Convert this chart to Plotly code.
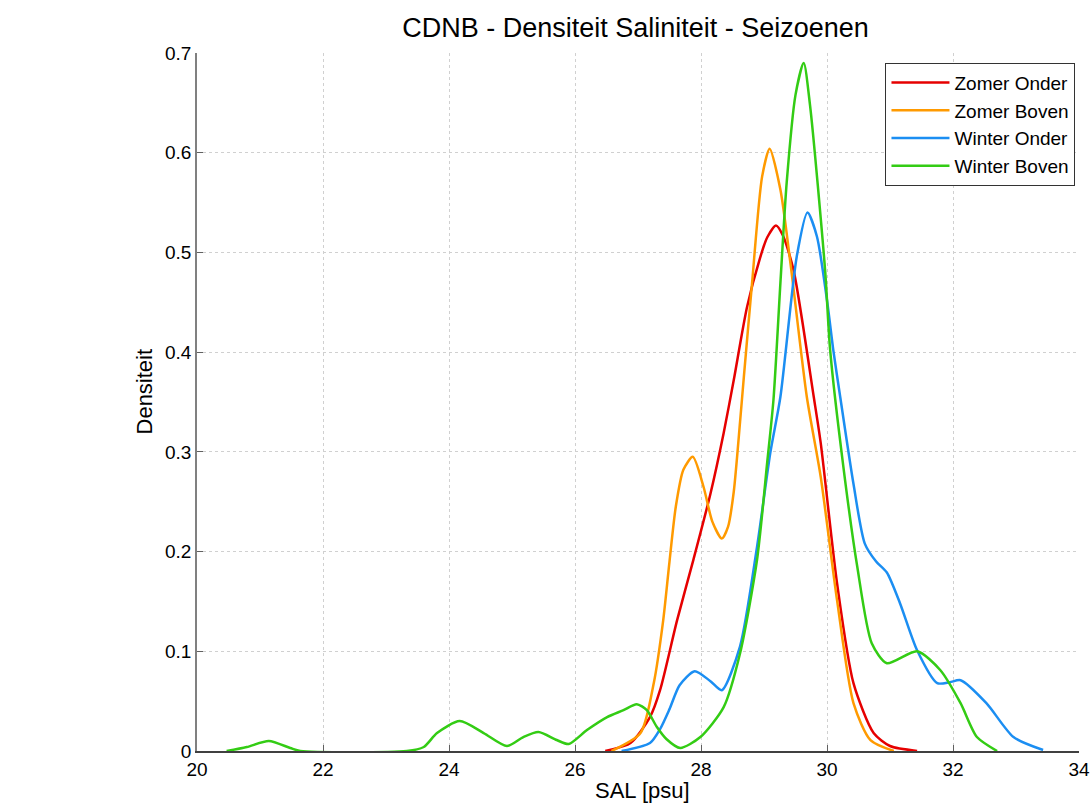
import plotly.graph_objects as go

# Zomer Onder (red)
zo_x = [26.48, 26.88, 27.19, 27.35, 27.62, 27.88, 28.15, 28.36, 28.52, 28.73, 28.94, 29.05, 29.19, 29.30, 29.47, 29.79, 29.90, 30.16, 30.42, 30.74, 31.00, 31.43]
zo_y = [0.0, 0.008, 0.034, 0.061, 0.131, 0.192, 0.258, 0.319, 0.372, 0.445, 0.495, 0.515, 0.527, 0.517, 0.482, 0.355, 0.309, 0.168, 0.068, 0.018, 0.005, 0.0]

# Zomer Boven (orange)
zb_x = [26.58, 27.04, 27.25, 27.40, 27.50, 27.60, 27.72, 27.87, 28.04, 28.18, 28.33, 28.43, 28.52, 28.62, 28.68, 28.81, 28.97, 29.09, 29.26, 29.42, 29.68, 29.90, 30.16, 30.42, 30.69, 31.06]
zb_y = [0.0, 0.018, 0.068, 0.131, 0.190, 0.245, 0.282, 0.295, 0.265, 0.230, 0.213, 0.225, 0.260, 0.330, 0.375, 0.469, 0.576, 0.604, 0.563, 0.489, 0.355, 0.275, 0.151, 0.048, 0.011, 0.0]

# Winter Onder (blue)
wo_x = [26.74, 27.19, 27.35, 27.50, 27.66, 27.90, 28.15, 28.33, 28.62, 28.89, 29.10, 29.26, 29.52, 29.69, 29.84, 30.00, 30.10, 30.21, 30.42, 30.60, 30.78, 30.95, 31.16, 31.43, 31.75, 31.95, 32.12, 32.53, 32.96, 33.43]
wo_y = [0.0, 0.008, 0.022, 0.042, 0.066, 0.080, 0.070, 0.061, 0.105, 0.205, 0.299, 0.355, 0.496, 0.540, 0.516, 0.452, 0.402, 0.355, 0.268, 0.208, 0.190, 0.179, 0.148, 0.101, 0.068, 0.069, 0.071, 0.048, 0.014, 0.001]

# Winter Boven (green)
wb_x = [20.47, 20.79, 21.14, 21.48, 21.64, 23.33, 23.60, 23.81, 24.17, 24.55, 24.92, 25.18, 25.42, 25.71, 25.90, 26.19, 26.51, 26.77, 26.98, 27.14, 27.30, 27.45, 27.67, 27.99, 28.36, 28.62, 28.89, 29.05, 29.15, 29.26, 29.36, 29.50, 29.63, 29.73, 29.97, 30.05, 30.26, 30.48, 30.71, 30.95, 31.43, 31.80, 32.12, 32.38, 32.70]
wb_y = [0.0, 0.004, 0.010, 0.003, 0.0, 0.0, 0.004, 0.018, 0.030, 0.018, 0.005, 0.014, 0.019, 0.011, 0.007, 0.021, 0.034, 0.041, 0.047, 0.041, 0.024, 0.012, 0.003, 0.014, 0.044, 0.098, 0.192, 0.289, 0.352, 0.469, 0.570, 0.658, 0.690, 0.648, 0.482, 0.402, 0.285, 0.185, 0.108, 0.088, 0.100, 0.081, 0.048, 0.014, 0.0]

series = [
    ("Zomer Onder", zo_x, zo_y, "#e60000"),
    ("Zomer Boven", zb_x, zb_y, "#ff9a00"),
    ("Winter Onder", wo_x, wo_y, "#1b8ef2"),
    ("Winter Boven", wb_x, wb_y, "#33cc14"),
]

x_ticks = [20, 22, 24, 26, 28, 30, 32, 34]
y_ticks = [0, 0.1, 0.2, 0.3, 0.4, 0.5, 0.6, 0.7]

fig = go.Figure()
for name, xs, ys, col in series:
    fig.add_trace(go.Scatter(x=xs, y=ys, mode="lines", name=name,
                             line=dict(color=col, width=2.5, shape="spline", smoothing=0.7)))

font_family = "Liberation Sans, Arial, sans-serif"
fig.update_layout(
    width=1092, height=805,
    margin=dict(l=197, r=13, t=53, b=54, autoexpand=False),
    paper_bgcolor="white", plot_bgcolor="white",
    font=dict(family=font_family, size=19, color="black"),
    title=dict(text="CDNB - Densiteit Saliniteit - Seizoenen", x=0.582, xanchor="center",
               y=0.966, yanchor="middle", font=dict(size=27, color="black")),
    showlegend=True,
    legend=dict(x=0.996, xanchor="right", y=0.986, yanchor="top",
                bgcolor="white", bordercolor="#333333", borderwidth=1,
                font=dict(size=19), itemwidth=58, tracegroupgap=0),
    xaxis=dict(range=[20, 34], tickvals=x_ticks, ticktext=[str(v) for v in x_ticks],
               showgrid=True, gridcolor="#d0d0d0", griddash="dot", gridwidth=1,
               zeroline=False, showline=True, linecolor="#404040", linewidth=1.5,
               ticks="inside", ticklen=6, tickcolor="#606060", automargin=False,
               tickfont=dict(size=19)),
    yaxis=dict(range=[0, 0.7], tickvals=y_ticks, ticktext=["0", "0.1", "0.2", "0.3", "0.4", "0.5", "0.6", "0.7"],
               showgrid=True, gridcolor="#d0d0d0", griddash="dot", gridwidth=1,
               zeroline=False, showline=True, linecolor="#808080", linewidth=1.5,
               ticks="inside", ticklen=6, tickcolor="#606060", automargin=False,
               tickfont=dict(size=19)),
    annotations=[
        dict(text="SAL [psu]", xref="paper", yref="paper", x=0.505, y=-0.057,
             xanchor="center", yanchor="middle", showarrow=False,
             font=dict(family=font_family, size=22, color="black")),
        dict(text="Densiteit", xref="paper", yref="paper", x=-0.059, y=0.515,
             xanchor="center", yanchor="middle", textangle=-90, showarrow=False,
             font=dict(family=font_family, size=22, color="black")),
    ],
)

fig.write_html("out.html")
